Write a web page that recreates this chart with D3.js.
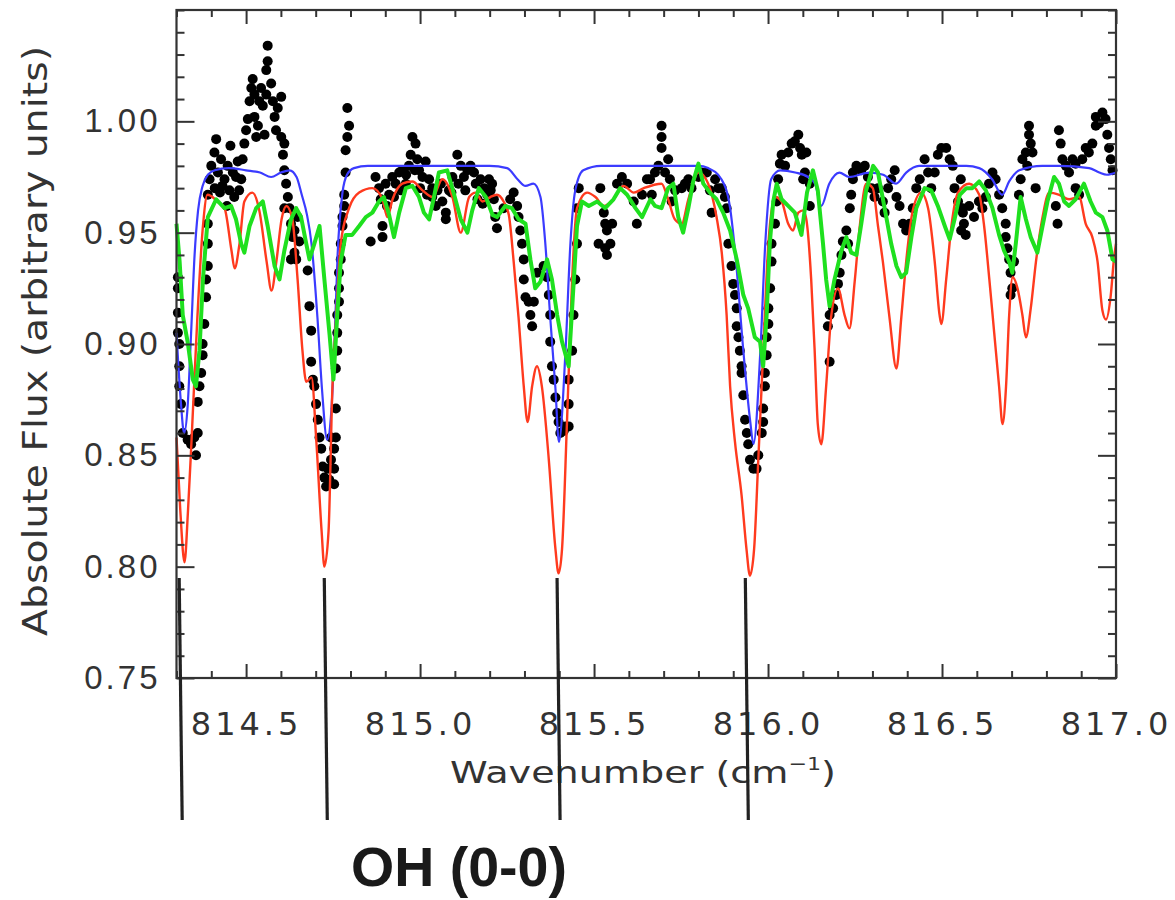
<!DOCTYPE html>
<html>
<head>
  <meta charset="utf-8">
  <title>OH (0-0) spectrum</title>
  <script src="https://d3js.org/d3.v7.min.js"></script>
  <style>
    body { margin: 0; background: #fff; }
    svg { display: block; }
  </style>
</head>
<body>
<script>
// observed spectrum (black dots): [wavenumber, flux]
var obsData = [
  [814.304,0.930],[814.304,0.925],[814.304,0.914],[814.304,0.905],[814.308,0.900],[814.308,0.890],[814.308,0.881],[814.313,0.873],[814.318,0.860],[814.332,0.857],
  [814.342,0.855],[814.351,0.858],[814.356,0.850],[814.361,0.860],[814.361,0.874],[814.366,0.881],[814.371,0.887],[814.375,0.895],[814.375,0.900],[814.380,0.909],
  [814.385,0.921],[814.385,0.929],[814.390,0.935],[814.390,0.945],[814.390,0.954],[814.390,0.967],[814.395,0.974],[814.400,0.980],[814.409,0.986],[814.414,0.992],
  [814.419,0.977],[814.428,0.983],[814.438,0.974],[814.447,0.980],[814.452,0.969],[814.462,0.977],[814.471,0.975],[814.476,0.982],[814.486,0.974],[814.490,0.983],
  [814.425,0.968],[814.445,0.962],[814.455,0.989],[814.432,0.971],[814.410,0.970],[814.466,0.966],[814.480,0.969],
  [814.495,0.990],[814.500,0.996],[814.505,1.001],[814.510,1.009],[814.515,1.015],[814.519,1.019],[814.524,1.012],[814.524,1.002],[814.529,0.993],[814.534,0.998],
  [814.538,1.009],[814.543,1.015],[814.548,1.007],[814.553,0.994],[814.558,1.012],[814.558,1.023],[814.562,1.027],[814.562,1.034],[814.572,1.017],[814.577,1.009],
  [814.582,1.002],[814.586,0.996],[814.591,1.006],[814.601,1.011],[814.601,0.993],[814.606,0.985],[814.610,0.990],[814.610,0.978],[814.615,0.972],[814.620,0.966],
  [814.625,0.961],[814.629,0.954],[814.634,0.948],[814.639,0.941],[814.629,0.938],[814.644,0.938],[814.653,0.946],[814.610,0.961],[814.639,0.951],[814.648,0.957],
  [814.677,0.933],[814.682,0.917],[814.687,0.906],[814.687,0.892],[814.692,0.884],[814.696,0.881],[814.701,0.873],[814.706,0.866],[814.711,0.858],[814.716,0.853],
  [814.720,0.845],[814.725,0.840],[814.730,0.836],[814.735,0.844],[814.739,0.839],[814.744,0.848],[814.744,0.858],
  [814.753,0.837],[814.753,0.844],[814.753,0.853],[814.758,0.858],[814.758,0.871],[814.758,0.889],[814.762,0.897],[814.762,0.905],[814.762,0.913],[814.767,0.919],
  [814.767,0.925],[814.767,0.932],[814.772,0.938],[814.772,0.945],[814.777,0.953],[814.777,0.957],[814.782,0.962],[814.782,0.967],[814.786,0.977],[814.786,0.987],
  [814.791,0.993],[814.796,0.998],[814.791,1.006],
  [814.858,0.946],[814.872,0.975],[814.882,0.970],[814.892,0.953],[814.892,0.948],[814.887,0.965],[814.901,0.972],[814.911,0.967],[814.920,0.975],[814.930,0.972],
  [814.940,0.977],[814.949,0.978],[814.959,0.972],[814.968,0.980],[814.973,0.985],[814.978,0.993],[814.987,0.990],[814.992,0.983],[814.997,0.978],[815.007,0.975],
  [815.016,0.982],[815.026,0.974],[815.035,0.970],[815.035,0.966],[815.050,0.969],[815.064,0.964],[815.074,0.959],[815.074,0.956],[815.083,0.969],[815.093,0.975],
  [815.107,0.985],[815.117,0.980],[815.126,0.975],[815.136,0.978],[815.145,0.980],[815.155,0.977],[815.160,0.972],[815.174,0.974],[815.184,0.970],[815.193,0.967],
  [815.198,0.974],[815.203,0.969],
  [814.905,0.962],[814.925,0.966],[814.945,0.969],[814.960,0.976],[814.985,0.978],[815.000,0.970],[815.020,0.967],[815.045,0.962],[815.060,0.972],[815.090,0.968],
  [815.110,0.972],[815.130,0.969],[815.165,0.965],[815.180,0.963],
  [815.207,0.972],[815.212,0.965],[815.216,0.957],[815.221,0.952],[815.240,0.961],[815.259,0.965],[815.269,0.968],[815.279,0.962],[815.283,0.957],[815.288,0.951],
  [815.293,0.945],[815.298,0.938],[815.298,0.929],[815.303,0.921],[815.312,0.919],[815.317,0.913],[815.322,0.908],[815.327,0.919],[815.336,0.932],[815.355,0.935],
  [815.365,0.930],[815.370,0.922],[815.374,0.913],[815.374,0.901],[815.379,0.890],[815.384,0.884],[815.389,0.876],[815.394,0.869],[815.398,0.865],[815.403,0.860],
  [815.413,0.861],[815.418,0.863],[815.427,0.863],[815.427,0.873],[815.427,0.884],[815.437,0.897],[815.441,0.913],[815.446,0.929],[815.451,0.945],[815.451,0.961],
  [815.456,0.970],
  [815.518,0.970],[815.528,0.959],[815.532,0.954],[815.537,0.951],[815.513,0.945],[815.532,0.943],[815.537,0.940],[815.547,0.945],[815.552,0.954],[815.566,0.972],
  [815.580,0.975],[815.595,0.972],[815.614,0.964],[815.623,0.954],[815.638,0.967],[815.652,0.974],
  [815.661,0.974],[815.666,0.967],[815.675,0.977],[815.685,0.980],[815.694,0.998],[815.694,0.993],[815.694,0.988],[815.704,0.977],[815.713,0.983],[815.718,0.974],
  [815.723,0.964],[815.733,0.969],[815.752,0.970],[815.761,0.972],[815.771,0.974],[815.780,0.970],[815.800,0.975],[815.809,0.977],[815.824,0.977],[815.833,0.969],
  [815.838,0.959],[815.848,0.974],[815.857,0.970],[815.867,0.970],[815.876,0.966],[815.881,0.961],[815.886,0.945],[815.895,0.935],[815.900,0.927],[815.905,0.922],
  [815.910,0.916],[815.910,0.908],[815.915,0.903],[815.919,0.897],[815.924,0.890],[815.924,0.887],[815.929,0.877],[815.934,0.866],[815.939,0.860],[815.943,0.855],
  [815.948,0.848],[815.958,0.844],[815.967,0.844],[815.972,0.850],[815.982,0.860],[815.986,0.865],[815.986,0.871],[815.991,0.881],[815.991,0.887],[815.996,0.895],
  [815.996,0.903],[816.001,0.909],[816.001,0.916],[816.006,0.925],[816.010,0.937],[816.010,0.945],[816.020,0.954],[816.025,0.964],[816.029,0.974],[816.034,0.981],
  [816.039,0.985],[816.049,0.980],[816.058,0.986],[816.068,0.990],[816.077,0.991],[816.087,0.994],[816.092,0.988],[816.097,0.985],[816.101,0.974],[816.106,0.977],
  [816.110,0.986],[816.120,0.972],[816.120,0.962],
  [816.206,0.932],[816.211,0.940],[816.215,0.946],[816.225,0.951],[816.230,0.945],[816.201,0.927],[816.196,0.922],[816.187,0.916],[816.177,0.913],[816.172,0.908],
  [816.177,0.892],[816.235,0.961],[816.239,0.967],[816.244,0.974],[816.244,0.977],[816.254,0.980],[816.268,0.978],[816.278,0.980],[816.287,0.975],[816.297,0.970],
  [816.306,0.966],[816.316,0.970],[816.330,0.964],[816.335,0.959],[816.345,0.970],[816.354,0.974],[816.364,0.978],[816.369,0.966],[816.378,0.962],[816.388,0.954],
  [816.397,0.951],[816.407,0.954],[816.416,0.961],[816.426,0.970],[816.436,0.974],[816.450,0.983],[816.460,0.977],[816.469,0.970],[816.479,0.977],[816.488,0.985],
  [816.498,0.988],[816.512,0.988],[816.522,0.983],[816.531,0.980],[816.536,0.970],[816.546,0.964],[816.555,0.951],[816.560,0.959],
  [816.554,0.974],[816.559,0.961],[816.563,0.954],[816.568,0.949],[816.578,0.962],[816.592,0.957],[816.606,0.964],[816.616,0.961],[816.626,0.966],[816.635,0.972],
  [816.645,0.977],[816.654,0.974],[816.664,0.967],[816.673,0.961],[816.683,0.954],[816.683,0.948],[816.688,0.943],[816.693,0.938],[816.697,0.932],[816.697,0.922],
  [816.702,0.925],[816.707,0.937],[816.721,0.967],[816.726,0.974],[816.731,0.983],[816.741,0.986],[816.745,0.980],[816.750,0.994],[816.750,0.998],[816.755,0.990],
  [816.760,0.986],[816.769,0.970],[816.827,0.962],[816.832,0.954],[816.836,0.996],[816.841,0.990],[816.846,0.983],[816.856,0.980],[816.865,0.977],[816.875,0.983],
  [816.884,0.981],[816.884,0.970],[816.894,0.967],[816.903,0.983],[816.913,0.988],[816.922,0.986],[816.932,0.990],[816.942,0.998],[816.942,1.002],[816.951,0.999],
  [816.961,1.004],[816.970,1.001],[816.975,0.994],[816.980,0.988],[816.985,0.983],[816.990,0.978]
];

// model 1 (blue)
var blueModel = [
  [814.300,0.905],[814.312,0.875],[814.322,0.860],[814.332,0.872],[814.342,0.905],[814.352,0.940],[814.362,0.960],[814.375,0.971],[814.390,0.976],[814.410,0.978],
  [814.450,0.979],[814.500,0.978],[814.540,0.977],[814.572,0.975],[814.600,0.977],[814.625,0.978],[814.645,0.975],[814.660,0.967],[814.675,0.958],[814.688,0.945],
  [814.705,0.912],[814.718,0.880],[814.733,0.857],[814.745,0.870],[814.754,0.900],[814.763,0.940],[814.777,0.968],[814.790,0.976],[814.810,0.979],[814.850,0.980],
  [815.000,0.980],[815.200,0.980],[815.250,0.979],[815.280,0.974],[815.303,0.971],[815.326,0.972],[815.346,0.966],[815.360,0.945],[815.374,0.912],[815.389,0.880],
  [815.399,0.856],[815.418,0.897],[815.432,0.945],[815.446,0.969],[815.469,0.978],[815.520,0.980],[815.800,0.980],[815.828,0.979],[815.866,0.974],[815.891,0.961],
  [815.908,0.937],[815.929,0.897],[815.949,0.865],[815.958,0.855],[815.978,0.897],[815.992,0.945],[816.009,0.974],[816.035,0.978],[816.078,0.977],[816.115,0.975],
  [816.135,0.972],[816.153,0.962],[816.176,0.972],[816.205,0.977],[816.233,0.975],[816.291,0.977],[816.331,0.976],[816.368,0.972],[816.397,0.977],[816.434,0.980],
  [816.570,0.980],[816.607,0.979],[816.644,0.974],[816.673,0.967],[816.693,0.973],[816.722,0.978],[816.788,0.980],[816.837,0.980],[816.923,0.979],[816.952,0.977],
  [816.974,0.976],[817.000,0.977]
];

// model 2 (red)
var redModel = [
  [814.300,0.858],[814.311,0.825],[814.323,0.802],[814.333,0.825],[814.343,0.856],[814.360,0.912],[814.375,0.951],[814.389,0.967],[814.418,0.964],[814.438,0.961],
  [814.458,0.942],[814.467,0.934],[814.481,0.945],[814.495,0.964],[814.518,0.968],[814.538,0.960],[814.559,0.937],[814.573,0.924],[814.587,0.937],[814.602,0.956],
  [814.616,0.962],[814.633,0.956],[814.648,0.929],[814.662,0.897],[814.673,0.883],[814.688,0.885],[814.702,0.856],[814.717,0.816],[814.725,0.800],[814.737,0.816],
  [814.748,0.880],[814.758,0.910],[814.772,0.945],[814.796,0.961],[814.825,0.968],[814.863,0.970],[814.892,0.965],[814.906,0.957],[814.921,0.965],[814.949,0.972],
  [814.978,0.973],[815.007,0.969],[815.036,0.966],[815.064,0.974],[815.093,0.966],[815.117,0.950],[815.141,0.966],[815.160,0.968],[815.179,0.964],[815.202,0.966],
  [815.221,0.967],[815.240,0.964],[815.255,0.958],[815.269,0.937],[815.283,0.912],[815.298,0.881],[815.309,0.865],[815.322,0.881],[815.336,0.890],[815.350,0.881],
  [815.370,0.848],[815.389,0.808],[815.398,0.797],[815.408,0.808],[815.422,0.864],[815.437,0.929],[815.451,0.961],[815.480,0.968],[815.504,0.966],[815.528,0.962],
  [815.556,0.965],[815.585,0.971],[815.614,0.968],[815.643,0.970],[815.694,0.972],[815.713,0.965],[815.732,0.956],[815.752,0.954],[815.771,0.965],[815.800,0.977],
  [815.828,0.972],[815.852,0.957],[815.867,0.941],[815.881,0.913],[815.891,0.881],[815.905,0.856],[815.924,0.832],[815.938,0.808],[815.948,0.796],[815.960,0.808],
  [815.972,0.848],[815.986,0.896],[816.001,0.945],[816.020,0.966],[816.039,0.964],[816.058,0.954],[816.072,0.951],[816.087,0.959],[816.101,0.960],[816.110,0.956],
  [816.124,0.929],[816.134,0.897],[816.143,0.864],[816.153,0.855],[816.167,0.881],[816.182,0.913],[816.201,0.925],[816.220,0.913],[816.234,0.907],[816.249,0.928],
  [816.263,0.952],[816.282,0.972],[816.301,0.970],[816.316,0.953],[816.330,0.937],[816.349,0.912],[816.369,0.889],[816.383,0.912],[816.397,0.937],[816.416,0.960],
  [816.440,0.968],[816.460,0.961],[816.479,0.937],[816.493,0.913],[816.498,0.909],[816.512,0.929],[816.527,0.953],[816.546,0.968],[816.578,0.972],[816.607,0.967],
  [816.621,0.953],[816.636,0.929],[816.650,0.905],[816.664,0.881],[816.674,0.864],[816.684,0.881],[816.693,0.913],[816.703,0.930],[816.717,0.925],[816.731,0.913],
  [816.741,0.903],[816.755,0.916],[816.770,0.937],[816.789,0.957],[816.808,0.968],[816.837,0.967],[816.865,0.965],[816.894,0.966],[816.913,0.954],[816.932,0.948],
  [816.947,0.937],[816.961,0.915],[816.971,0.911],[816.985,0.922],[816.994,0.938],[817.000,0.945]
];

// model 3 (green)
var greenModel = [
  [814.300,0.954],[814.309,0.937],[814.318,0.913],[814.332,0.901],[814.347,0.884],[814.356,0.881],[814.366,0.897],[814.376,0.929],[814.390,0.957],[814.414,0.965],
  [814.438,0.961],[814.457,0.962],[814.471,0.956],[814.486,0.945],[814.495,0.941],[814.510,0.953],[814.529,0.961],[814.548,0.964],[814.562,0.953],[814.582,0.935],
  [814.596,0.929],[814.610,0.942],[814.629,0.956],[814.644,0.961],[814.658,0.957],[814.673,0.945],[814.682,0.938],[814.696,0.945],[814.711,0.953],[814.725,0.929],
  [814.740,0.904],[814.751,0.884],[814.762,0.913],[814.772,0.937],[814.786,0.949],[814.805,0.949],[814.825,0.953],[814.844,0.957],[814.863,0.959],[814.882,0.964],
  [814.896,0.966],[814.911,0.958],[814.925,0.948],[814.940,0.959],[814.959,0.970],[814.978,0.971],[814.997,0.966],[815.011,0.959],[815.026,0.956],[815.040,0.966],
  [815.054,0.977],[815.078,0.978],[815.098,0.967],[815.117,0.956],[815.136,0.950],[815.150,0.960],[815.169,0.970],[815.189,0.966],[815.208,0.958],[815.221,0.957],
  [815.245,0.962],[815.264,0.961],[815.283,0.956],[815.303,0.954],[815.317,0.938],[815.331,0.925],[815.346,0.928],[815.365,0.938],[815.379,0.929],[815.394,0.913],
  [815.408,0.901],[815.427,0.890],[815.442,0.929],[815.451,0.953],[815.465,0.964],[815.485,0.962],[815.509,0.964],[815.532,0.961],[815.556,0.965],[815.575,0.970],
  [815.595,0.967],[815.619,0.961],[815.638,0.957],[815.662,0.965],[815.675,0.962],[815.694,0.961],[815.713,0.970],[815.728,0.972],[815.742,0.957],[815.756,0.950],
  [815.771,0.961],[815.785,0.973],[815.800,0.981],[815.814,0.972],[815.833,0.968],[815.852,0.965],[815.871,0.959],[815.891,0.951],[815.910,0.938],[815.929,0.922],
  [815.943,0.916],[815.962,0.903],[815.977,0.901],[815.986,0.890],[815.996,0.913],[816.005,0.945],[816.015,0.964],[816.025,0.972],[816.039,0.965],[816.058,0.962],
  [816.077,0.959],[816.096,0.949],[816.112,0.968],[816.129,0.978],[816.143,0.969],[816.158,0.945],[816.167,0.929],[816.177,0.917],[816.191,0.929],[816.211,0.942],
  [816.225,0.948],[816.239,0.941],[816.254,0.940],[816.268,0.954],[816.282,0.969],[816.302,0.980],[816.316,0.977],[816.335,0.961],[816.354,0.945],[816.369,0.935],
  [816.383,0.930],[816.397,0.932],[816.412,0.948],[816.426,0.961],[816.450,0.970],[816.469,0.969],[816.488,0.962],[816.508,0.953],[816.522,0.947],[816.536,0.956],
  [816.551,0.967],[816.570,0.970],[816.587,0.970],[816.607,0.973],[816.626,0.969],[816.645,0.961],[816.664,0.949],[816.678,0.942],[816.693,0.937],[816.702,0.932],
  [816.712,0.945],[816.726,0.966],[816.741,0.956],[816.755,0.948],[816.774,0.941],[816.789,0.953],[816.803,0.964],[816.822,0.975],[816.836,0.972],[816.851,0.964],
  [816.865,0.962],[816.884,0.965],[816.908,0.972],[816.927,0.964],[816.942,0.959],[816.961,0.957],[816.975,0.951],[816.990,0.938],[817.000,0.937]
];

// OH (0-0) line positions (cm^-1)
var ohLines = [814.312, 814.729, 815.398, 815.939];

var xMajorTicks = [814.5, 815.0, 815.5, 816.0, 816.5, 817.0];
var yMajorTicks = [0.75, 0.80, 0.85, 0.90, 0.95, 1.00];

var width = 1175, height = 900;
var plotLeft = 176.5, plotRight = 1116, plotTop = 10, plotBottom = 678;

var svg = d3.select("body").append("svg").attr("width", width).attr("height", height);

var x = d3.scaleLinear().domain([814.3, 817.0]).range([plotLeft, plotRight]);
var y = d3.scaleLinear().domain([0.75, 1.05]).range([plotBottom, plotTop]);

// minor tick values
var xMinor = d3.range(8143, 8171).map(function(v) { return v / 10; })
  .filter(function(v) { return xMajorTicks.indexOf(+v.toFixed(1)) < 0; });
var yMinor = d3.range(75, 106).map(function(v) { return v / 100; })
  .filter(function(v) { return yMajorTicks.indexOf(+v.toFixed(2)) < 0; });

var plot = svg.append("g");

// observed points
plot.selectAll("circle.obs")
  .data(obsData)
  .enter().append("circle")
  .attr("class", "obs")
  .attr("cx", function(d) { return x(d[0]); })
  .attr("cy", function(d) { return y(d[1]); })
  .attr("r", 5)
  .attr("fill", "#000");

var smooth = d3.line()
  .x(function(d) { return x(d[0]); })
  .y(function(d) { return y(d[1]); })
  .curve(d3.curveMonotoneX);
var jagged = d3.line()
  .x(function(d) { return x(d[0]); })
  .y(function(d) { return y(d[1]); });

plot.append("path").datum(blueModel).attr("d", smooth)
  .attr("fill", "none").attr("stroke", "#3b3bff").attr("stroke-width", 2.2);
plot.append("path").datum(redModel).attr("d", smooth)
  .attr("fill", "none").attr("stroke", "#ff3a1e").attr("stroke-width", 2.4);
plot.append("path").datum(greenModel).attr("d", jagged)
  .attr("fill", "none").attr("stroke", "#1fe01f").attr("stroke-width", 4)
  .attr("stroke-linejoin", "round");

// axes
function styleAxis(g) {
  g.select(".domain").remove();
  g.selectAll(".tick line").attr("stroke", "#333").attr("stroke-width", 2);
}

svg.append("g").attr("transform", "translate(0," + plotBottom + ")")
  .call(d3.axisBottom(x).tickValues(xMinor).tickSize(-7).tickFormat(""))
  .call(styleAxis);
svg.append("g").attr("transform", "translate(0," + plotBottom + ")")
  .call(d3.axisBottom(x).tickValues(xMajorTicks).tickSize(-14).tickPadding(34)
    .tickFormat(d3.format(".1f")))
  .call(styleAxis)
  .selectAll("text")
  .attr("font-family", "DejaVu Sans, sans-serif")
  .attr("font-size", 32)
  .attr("letter-spacing", 4)
  .attr("fill", "#333");

svg.append("g").attr("transform", "translate(0," + plotTop + ")")
  .call(d3.axisTop(x).tickValues(xMinor).tickSize(-7).tickFormat(""))
  .call(styleAxis);
svg.append("g").attr("transform", "translate(0," + plotTop + ")")
  .call(d3.axisTop(x).tickValues(xMajorTicks).tickSize(-14).tickFormat(""))
  .call(styleAxis);

svg.append("g").attr("transform", "translate(" + plotLeft + ",0)")
  .call(d3.axisLeft(y).tickValues(yMinor).tickSize(-8).tickFormat(""))
  .call(styleAxis);
svg.append("g").attr("transform", "translate(" + plotLeft + ",0)")
  .call(d3.axisLeft(y).tickValues(yMajorTicks).tickSize(-18).tickPadding(16)
    .tickFormat(d3.format(".2f")))
  .call(styleAxis)
  .selectAll("text")
  .attr("font-family", "Liberation Sans, Arial, sans-serif")
  .attr("font-size", 33)
  .attr("letter-spacing", 3)
  .attr("fill", "#333");

svg.append("g").attr("transform", "translate(" + plotRight + ",0)")
  .call(d3.axisRight(y).tickValues(yMinor).tickSize(-8).tickFormat(""))
  .call(styleAxis);
svg.append("g").attr("transform", "translate(" + plotRight + ",0)")
  .call(d3.axisRight(y).tickValues(yMajorTicks).tickSize(-18).tickFormat(""))
  .call(styleAxis);

// frame
svg.append("rect")
  .attr("x", plotLeft).attr("y", plotTop)
  .attr("width", plotRight - plotLeft).attr("height", plotBottom - plotTop)
  .attr("fill", "none").attr("stroke", "#333").attr("stroke-width", 2.2);

// axis titles
var xt = svg.append("text")
  .attr("x", 450).attr("y", 783)
  .attr("font-family", "DejaVu Sans, sans-serif")
  .attr("font-size", 31)
  .attr("fill", "#333")
  .attr("textLength", 386)
  .attr("lengthAdjust", "spacingAndGlyphs");
xt.append("tspan").text("Wavenumber (cm");
xt.append("tspan").attr("font-size", 18).attr("dy", -13).text("\u22121");
xt.append("tspan").attr("dy", 13).text(")");

svg.append("text")
  .attr("transform", "translate(47,341) rotate(-90)")
  .attr("text-anchor", "middle")
  .attr("font-family", "DejaVu Sans, sans-serif")
  .attr("font-size", 33)
  .attr("fill", "#333")
  .attr("textLength", 590)
  .attr("lengthAdjust", "spacingAndGlyphs")
  .text("Absolute Flux (arbitrary units)");

// OH line markers
svg.selectAll("line.oh")
  .data(ohLines)
  .enter().append("line")
  .attr("class", "oh")
  .attr("x1", function(d) { return x(d) - 1.5; })
  .attr("x2", function(d) { return x(d) + 1.5; })
  .attr("y1", 578).attr("y2", 820)
  .attr("stroke", "#222").attr("stroke-width", 3.2);

svg.append("text")
  .attr("x", 351).attr("y", 886)
  .attr("font-family", "Liberation Sans Narrow, Liberation Sans, Arial, sans-serif")
  .attr("font-weight", "bold")
  .attr("font-size", 55)
  .attr("fill", "#1a1a1a")
  .attr("textLength", 216)
  .attr("lengthAdjust", "spacingAndGlyphs")
  .text("OH (0-0)");
</script>
</body>
</html>
